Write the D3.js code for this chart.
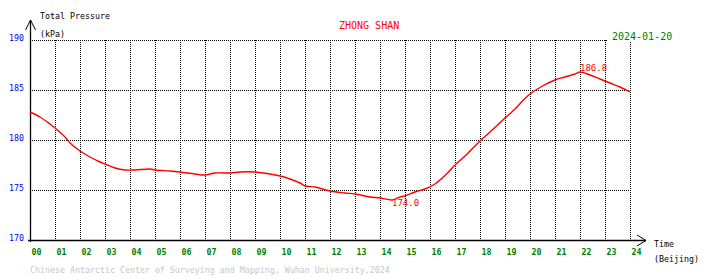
<!DOCTYPE html>
<html>
<head>
<meta charset="utf-8">
<script src="https://cdn.jsdelivr.net/npm/d3@7"></script>
<style>
  html, body { margin: 0; padding: 0; background: #fff; }
  svg { display: block; }
  text { font-family: "DejaVu Sans Mono", monospace; }
</style>
</head>
<body>
<svg width="710" height="278"></svg>
<script>
// hour ticks and labels along the bottom
const hourTicks = d3.range(0, 25);
const hourLabels = hourTicks.map(h => String(h).padStart(2, '0'));

// pressure ticks (kPa)
const pressureTicks = [170, 175, 180, 185, 190];

// total pressure readings, hour of day (Beijing) -> kPa
const hours = [0, 0.4, 0.8, 1.0, 1.4, 1.6, 2.0, 2.4, 2.8, 3.0, 3.4, 3.8, 4.2, 4.8, 5.0, 5.6, 6.0, 6.6, 7.0, 7.4,
  8.0, 8.4, 9.0, 9.6, 10.0, 10.4, 10.8, 11.0, 11.4, 12.0, 12.6, 13.0, 13.6, 14.0, 14.5, 14.8, 15.0, 15.4, 15.8, 16.2,
  16.4, 16.7, 17.0, 17.4, 18.0, 18.4, 19.0, 19.4, 19.7, 20.0, 20.5, 21.0, 21.4, 21.8, 22.0, 22.4, 22.8, 23.2, 23.6, 24.0];
const pressure = [182.8, 182.3, 181.6, 181.2, 180.3, 179.7, 178.9, 178.3, 177.8, 177.6, 177.2, 177.0, 177.0, 177.1, 177.0, 176.9, 176.8, 176.6, 176.5, 176.7,
  176.7, 176.8, 176.8, 176.6, 176.4, 176.1, 175.7, 175.4, 175.3, 174.9, 174.7, 174.6, 174.3, 174.2, 174.0, 174.3, 174.4, 174.8, 175.1, 175.6,
  176.0, 176.7, 177.5, 178.4, 179.9, 180.8, 182.2, 183.1, 183.9, 184.6, 185.4, 186.0, 186.3, 186.6, 186.8, 186.5, 186.1, 185.7, 185.3, 184.8];

const station = 'ZHONG SHAN';
const dateLabel = '2024-01-20';
const footer = 'Chinese Antarctic Center of Surveying and Mapping, Wuhan University,2024';

const svg = d3.select('svg');
svg.append('rect').attr('width', 710).attr('height', 278).attr('fill', '#fff');

const x = d3.scaleLinear().domain([0, 24]).range([30, 630]);
const y = d3.scaleLinear().domain([170, 190]).range([240, 40]);

// dotted grid
const grid = svg.append('g')
  .attr('stroke', '#000')
  .attr('stroke-dasharray', '1,1')
  .attr('shape-rendering', 'crispEdges');
grid.selectAll('line.v')
  .data(hourTicks.slice(1))
  .join('line')
  .attr('class', 'v')
  .attr('x1', d => x(d) + 0.5).attr('x2', d => x(d) + 0.5)
  .attr('y1', y(190)).attr('y2', y(170));
grid.selectAll('line.h')
  .data(pressureTicks.slice(1))
  .join('line')
  .attr('class', 'h')
  .attr('x1', x(0)).attr('x2', x(24))
  .attr('y1', d => y(d) + 0.5).attr('y2', d => y(d) + 0.5);

// y tick labels
const yAxis = svg.append('g')
  .attr('transform', `translate(${x(0)},0)`)
  .call(d3.axisLeft(y).tickValues(pressureTicks).tickSize(0).tickPadding(6));
yAxis.select('.domain').remove();
yAxis.selectAll('text')
  .attr('dy', '0.6')
  .attr('fill', '#0000ff')
  .style('font-size', '8.3px')
  .style('font-family', '"DejaVu Sans Mono", monospace');

// x tick labels
const xAxis = svg.append('g')
  .attr('transform', `translate(0,${y(170)})`)
  .call(d3.axisBottom(x).tickValues(hourTicks).tickFormat(h => hourLabels[h]).tickSize(0));
xAxis.select('.domain').remove();
xAxis.selectAll('text')
  .attr('text-anchor', 'start')
  .attr('x', 1)
  .attr('y', 14.5)
  .attr('dy', 0)
  .attr('fill', '#008000')
  .style('font-weight', 'bold')
  .style('font-size', '8.3px')
  .style('font-family', '"DejaVu Sans Mono", monospace');

// axes with arrows
const axes = svg.append('g').attr('stroke', '#000').attr('fill', 'none');
axes.append('line').attr('x1', x(0) + 0.5).attr('x2', x(0) + 0.5).attr('y1', 20).attr('y2', y(170) + 2)
  .attr('stroke-width', 1.3);
axes.append('path').attr('d', `M${x(0) - 4.5},30 L${x(0) + 0.5},20 L${x(0) + 5.5},30`);
axes.append('line').attr('x1', x(0) - 2).attr('x2', 646).attr('y1', y(170) + 0.5).attr('y2', y(170) + 0.5)
  .attr('stroke-width', 1.3);
axes.append('path').attr('d', `M637,235 L646,${y(170) + 0.5} L637,246`);

// pressure line
const line = d3.line()
  .x((d, i) => x(hours[i]))
  .y(d => y(d))
  .curve(d3.curveCatmullRom);
svg.append('path')
  .datum(pressure)
  .attr('d', line)
  .attr('fill', 'none')
  .attr('stroke', '#ff0000')
  .attr('stroke-width', 1.4);

// extreme labels
const iMax = d3.maxIndex(pressure);
const iMin = d3.minIndex(pressure);
svg.append('text')
  .attr('x', x(hours[iMax]))
  .attr('y', y(pressure[iMax]) - 1)
  .attr('fill', '#ff0000')
  .style('font-size', '9px')
  .text(pressure[iMax].toFixed(1));
svg.append('text')
  .attr('x', x(hours[iMin]) - 0.5)
  .attr('y', y(pressure[iMin]) + 5.5)
  .attr('fill', '#ff0000')
  .style('font-size', '9px')
  .text(pressure[iMin].toFixed(1));

// titles
const small = { size: '8.3px' };
svg.append('text').attr('x', 40).attr('y', 19).style('font-size', small.size).text('Total Pressure');
svg.append('text').attr('x', 40).attr('y', 37).style('font-size', small.size).text('(kPa)');
svg.append('text').attr('x', 654).attr('y', 247).style('font-size', small.size).text('Time');
svg.append('text').attr('x', 654).attr('y', 262).style('font-size', small.size).text('(Beijing)');

svg.append('text').attr('x', 339).attr('y', 29).attr('fill', '#ff0000')
  .style('font-size', '10px').text(station);
svg.append('rect').attr('x', 608).attr('y', 31).attr('width', 66).attr('height', 10).attr('fill', '#fff');
svg.append('text').attr('x', 612).attr('y', 40).attr('fill', '#008000')
  .style('font-size', '10px').text(dateLabel);

svg.append('text').attr('x', 30).attr('y', 273).attr('fill', '#c8c8c8')
  .style('font-size', '8.3px').text(footer);
</script>
</body>
</html>
